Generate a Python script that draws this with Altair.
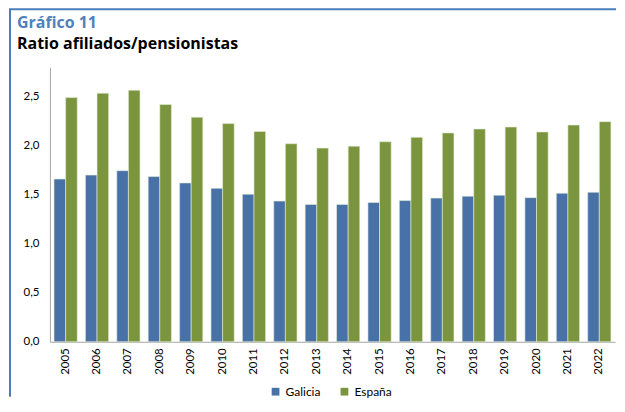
import altair as alt
import pandas as pd

years = [str(y) for y in range(2005, 2023)]
galicia = [1.66, 1.70, 1.745, 1.685, 1.62, 1.565, 1.505, 1.435, 1.40, 1.40, 1.42, 1.44, 1.465, 1.485, 1.495, 1.47, 1.515, 1.525]
espana = [2.49, 2.535, 2.565, 2.42, 2.29, 2.225, 2.145, 2.02, 1.975, 1.995, 2.04, 2.085, 2.13, 2.17, 2.19, 2.14, 2.21, 2.245]
series = ["Galicia", "España"]
colors = ["#4771A7", "#7A953D"]
title_text = "Gráfico 11"
subtitle_text = "Ratio afiliados/pensionistas"

rows = []
for i, y in enumerate(years):
    rows.append({"Año": y, "Serie": "Galicia", "Valor": galicia[i]})
    rows.append({"Año": y, "Serie": "España", "Valor": espana[i]})
df = pd.DataFrame(rows)

FONT = "Lato"
TFONT = "Open Sans"

bars = alt.Chart(df).mark_bar(stroke="#e6ecd6", strokeWidth=0.6).encode(
    x=alt.X("Año:N", title=None,
            scale=alt.Scale(paddingInner=0.26, paddingOuter=0.13),
            axis=alt.Axis(labelAngle=270, labelAlign="right", labelBaseline="middle",
                          labelPadding=6, ticks=False, domainColor="#a6a6a6",
                          labelFont=FONT, labelFontSize=11.5, labelColor="#000000")),
    xOffset=alt.XOffset("Serie:N", sort=series),
    y=alt.Y("Valor:Q", title=None,
            scale=alt.Scale(domain=[0, 2.8], nice=False),
            axis=alt.Axis(values=[0, 0.5, 1.0, 1.5, 2.0, 2.5], grid=False, ticks=False,
                          labelExpr="replace(format(datum.value, '.1f'), '.', ',')",
                          labelPadding=11, domainColor="#a6a6a6",
                          labelFont=FONT, labelFontSize=11.5, labelColor="#000000")),
    color=alt.Color("Serie:N", sort=series,
                    scale=alt.Scale(domain=series, range=colors),
                    legend=alt.Legend(title=None, orient="none", direction="horizontal",
                                      legendX=220, legendY=319, symbolType="square",
                                      symbolSize=60, symbolStrokeWidth=0,
                                      labelFont=FONT, labelFontSize=12, columnPadding=18,
                                      labelColor="#000000")),
)

one = alt.Data(values=[{}])
border_left = alt.Chart(one).mark_rule(color="#4A7EBB", strokeWidth=2).encode(
    x=alt.value(-40), y=alt.value(-58), y2=alt.value(330)
)
border_top = alt.Chart(one).mark_rule(color="#4A7EBB", strokeWidth=2).encode(
    x=alt.value(-41), x2=alt.value(567), y=alt.value(-58)
)
title = alt.Chart(one).mark_text(
    align="left", baseline="alphabetic", font=TFONT, fontSize=16, fontWeight="bold", color="#4F81BD"
).encode(x=alt.value(-33), y=alt.value(-39), text=alt.value(title_text))
subtitle = alt.Chart(one).mark_text(
    align="left", baseline="alphabetic", font=TFONT, fontSize=16, fontWeight="bold", color="#000000"
).encode(x=alt.value(-33), y=alt.value(-18), text=alt.value(subtitle_text))

chart = alt.layer(bars, border_left, border_top, title, subtitle).properties(
    width=566, height=275,
    padding={"left": 0, "top": 0, "right": 0, "bottom": 0},
).configure_view(strokeWidth=0)

chart.save("out.html", embed_options={"renderer": "svg", "actions": False})
